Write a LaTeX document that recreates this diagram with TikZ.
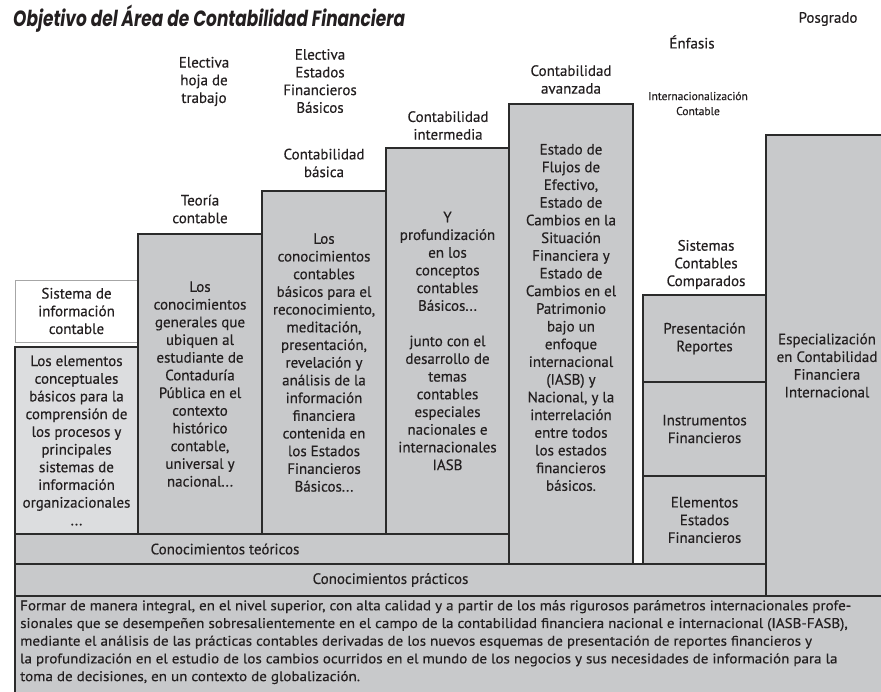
\documentclass[tikz,border=0pt]{standalone}
\usepackage{fontspec}
\setmainfont{PT Sans}
\newfontfamily\medfont{PT Sans}[FakeBold=0.35]
\newfontfamily\titlefont{Poppins}
\usepackage{graphicx}
\definecolor{boxg}{HTML}{C8C9CB}
\definecolor{boxl}{HTML}{DCDDDF}
\definecolor{txt}{HTML}{231F20}
\definecolor{linec}{HTML}{2B2B2B}
\newlength\lineonewd
\newcommand\boxfont{\medfont\fontsize{15}{17.7}\selectfont}
\newcommand\smallfnt{\medfont\fontsize{11.5}{15}\selectfont}
\newcommand\parafnt{\medfont\fontsize{14}{17.7}\selectfont}
\tikzset{
  box/.style={draw=linec, line width=1.4pt, fill=boxg, inner sep=0pt, outer sep=0pt,
    text=txt, align=center, font=\boxfont},
  lightbox/.style={box, fill=boxl},
  whitebox/.style={box, fill=white, draw=gray!70, line width=1pt},
  lbl/.style={text=txt, align=center, font=\boxfont, inner sep=0pt},
  smalllbl/.style={lbl, font=\smallfnt},
}
\begin{document}
\settowidth\lineonewd{\parafnt Formar de manera integral, en el nivel superior, con alta calidad y a partir de los más rigurosos parámetros internacionales profe-}%
\pgfmathsetmacro\bfac{831/\lineonewd}%
\begin{tikzpicture}[x=1pt,y=-1pt]
\clip (0,0) rectangle (881,691);
\fill[white] (0,0) rectangle (881,691);

% title and top labels
\node[anchor=west, text=txt, inner sep=0pt] (title) at (13,19)
  {\resizebox{392pt}{\height}{\titlefont\bfseries\itshape\fontsize{22}{26}\selectfont Objetivo del Área de Contabilidad Financiera}};
\node[lbl] (posgrado) at (828,19) {Posgrado};
\node[lbl] (enfasis) at (692,42) {Énfasis};
\node[lbl] (lavz) at (571,79.5) {Contabilidad\\avanzada};
\node[smalllbl] (lintl) at (698,103.5) {Internacionalización\\Contable};
\node[lbl] (linter) at (448,125.5) {Contabilidad\\intermedia};
\node[lbl] (lelef) at (320,81) {Electiva\\Estados\\Financieros\\Básicos};
\node[lbl] (lelhoja) at (204,81.5) {Electiva\\hoja de\\trabajo};
\node[lbl] (lbas) at (324,163) {Contabilidad\\básica};
\node[lbl] (lteo) at (200,209) {Teoría\\contable};
\node[lbl] (lsis) at (706,264.5) {Sistemas\\Contables\\Comparados};

% bottom box and bands
\node[box, minimum width=880pt, minimum height=104pt] (obj) at (455,648) {};
\node[box, minimum width=122pt, minimum height=461pt] (esp) at (827,365.5)
  {Especialización\\en Contabilidad\\Financiera\\Internacional};
\node[box, minimum width=751pt, minimum height=32pt] (prac) at (390.5,580) {Conocimientos prácticos};
\node[box, minimum width=494pt, minimum height=30pt] (teor) at (262,549) {};
\node[lbl] (teortxt) at (225,549) {Conocimientos teóricos};

% columns
\node[whitebox, minimum width=123pt, minimum height=62pt] (sisw) at (76.5,311)
  {Sistema de\\información\\contable};
\node[lightbox, minimum width=123pt, minimum height=187pt] (sisg) at (76.5,440.5)
  {Los elementos\\conceptuales\\básicos para la\\comprensión de\\los procesos y\\principales\\sistemas de\\información\\organizacionales\\...};
\node[box, minimum width=124pt, minimum height=300pt] (teo) at (200,384)
  {Los\\conocimientos\\generales que\\ubiquen al\\estudiante de\\Contaduría\\Pública en el\\contexto\\histórico\\contable,\\universal y\\nacional...};
\node[box, minimum width=124pt, minimum height=343pt] (bas) at (324,362.5)
  {Los\\conocimientos\\contables\\básicos para el\\reconocimiento,\\meditación,\\presentación,\\revelación y\\análisis de la\\información\\financiera\\contenida en\\los Estados\\Financieros\\Básicos...};
\node[box, minimum width=123pt, minimum height=386pt] (inter) at (447.5,341)
  {Y\\profundización\\en los\\conceptos\\contables\\Básicos...\\[17.7pt]junto con el\\desarrollo de\\temas\\contables\\especiales\\nacionales e\\internacionales\\IASB};
\node[box, minimum width=124pt, minimum height=460pt] (avz) at (571,334) {};
\node[lbl] (avztxt) at (571,317.5)
  {Estado de\\Flujos de\\Efectivo,\\Estado de\\Cambios en la\\Situación\\Financiera y\\Estado de\\Cambios en el\\Patrimonio\\bajo un\\enfoque\\internacional\\(IASB) y\\Nacional, y la\\interrelación\\entre todos\\los estados\\financieros\\básicos.};
\node[box, minimum width=123pt, minimum height=87pt] (pres) at (704.5,338.5) {Presentación\\Reportes};
\node[box, minimum width=123pt, minimum height=94pt] (instr) at (704.5,429) {Instrumentos\\Financieros};
\node[box, minimum width=123pt, minimum height=88pt] (elem) at (704.5,520) {Elementos\\Estados\\Financieros};

% objective paragraph
\node[anchor=north west, text=txt, align=left, font=\parafnt, inner sep=0pt] (objtxt) at (20,600)
  {\scalebox{\bfac}[1]{Formar de manera integral, en el nivel superior, con alta calidad y a partir de los más rigurosos parámetros internacionales profe-}\\
   \scalebox{\bfac}[1]{sionales que se desempeñen sobresalientemente en el campo de la contabilidad financiera nacional e internacional (IASB-FASB),}\\
   \scalebox{\bfac}[1]{mediante el análisis de las prácticas contables derivadas de los nuevos esquemas de presentación de reportes financieros y}\\
   \scalebox{\bfac}[1]{la profundización en el estudio de los cambios ocurridos en el mundo de los negocios y sus necesidades de información para la}\\
   \scalebox{\bfac}[1]{toma de decisiones, en un contexto de globalización.}};
\end{tikzpicture}
\end{document}
